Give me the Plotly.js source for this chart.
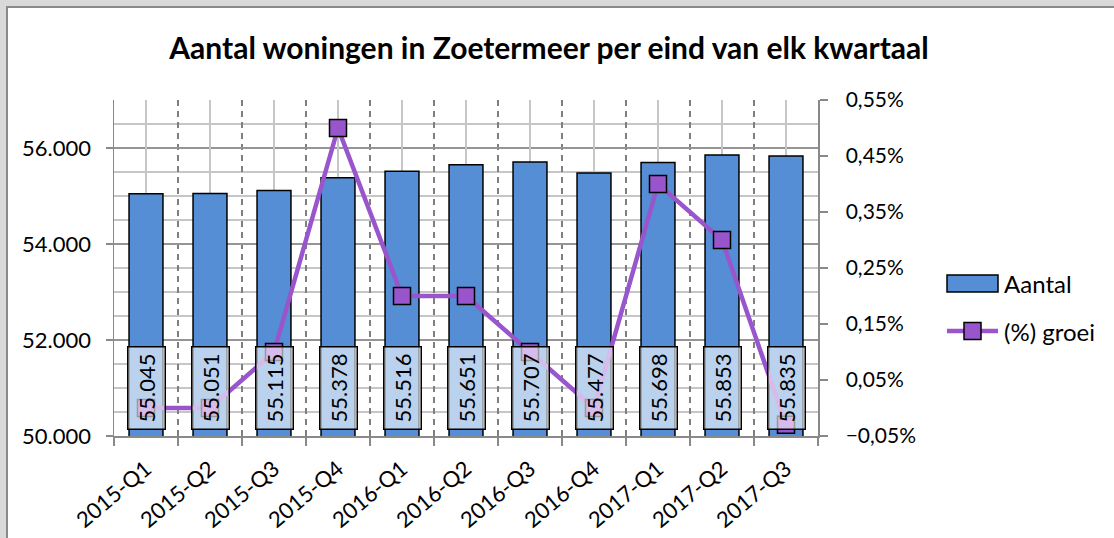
<!DOCTYPE html>
<html>
<head>
<meta charset="utf-8">
<script src="https://cdn.plot.ly/plotly-3.0.1.min.js"></script>
<style>
  html, body { margin: 0; padding: 0; background: #d9d9d9; width: 1114px; height: 538px; overflow: hidden; }
  #frame { position: absolute; left: 6px; top: 6px; width: 1106px; height: 530px;
           border-left: 2px solid #8a8a8a; border-top: 2px solid #8a8a8a; background: #ffffff; }
  #chart { width: 1106px; height: 530px; }
</style>
</head>
<body>
<div id="frame"><div id="chart"></div></div>
<script>
// ---- data ----
const categories = ["2015-Q1","2015-Q2","2015-Q3","2015-Q4","2016-Q1","2016-Q2","2016-Q3","2016-Q4","2017-Q1","2017-Q2","2017-Q3"];
const aantal = [55045, 55051, 55115, 55378, 55516, 55651, 55707, 55477, 55698, 55853, 55835];
const groei = [0.00, 0.00, 0.10, 0.50, 0.20, 0.20, 0.10, 0.00, 0.40, 0.30, -0.03];
const seriesNames = ["Aantal", "(%) groei"];
const titleText = "Aantal woningen in Zoetermeer per eind van elk kwartaal";

// ---- layout geometry (pixels inside chart div) ----
const W = 1106, H = 530;
const M = { l: 106, r: 296, t: 92, b: 102 };
const PW = W - M.l - M.r, PH = H - M.t - M.b;
const px = x => (x - M.l) / PW;
const py = y => 1 - (y - M.t) / PH;

const barColor = "#558ed5";
const lineColor = "#9955cc";
const FONT = "Lato, 'Open Sans', sans-serif";

function nl(v) { return String(v).replace(/\B(?=(\d{3})+(?!\d))/g, "."); }

const bars = {
  type: "bar", name: seriesNames[0], x: categories, y: aantal,
  xaxis: "x", yaxis: "y", width: 0.53,
  marker: { color: barColor, line: { color: "#000000", width: 1.5 } },
  hoverinfo: "x+y"
};
const line = {
  type: "scatter", mode: "lines+markers", name: seriesNames[1], x: categories, y: groei,
  xaxis: "x2", yaxis: "y2",
  line: { color: lineColor, width: 4.5 },
  marker: { symbol: "square", size: 17, color: lineColor, line: { color: "#000000", width: 1.5 } },
  cliponaxis: false
};

const annotations = categories.map((c, i) => ({
  xref: "x", yref: "y", x: c, y: 51000, text: nl(aantal[i]),
  showarrow: false, textangle: -90,
  font: { family: FONT, size: 22, color: "#000000" },
  bgcolor: "rgba(255,255,255,0.6)", bordercolor: "#000000", borderwidth: 1.5, borderpad: 1,
  width: 79, height: 34, xanchor: "center", yanchor: "middle"
}));

// custom legend
const legFont = { family: FONT, size: 24, color: "#000000" };
annotations.push({ xref: "paper", yref: "paper", x: px(994), y: py(275.5), xanchor: "left", yanchor: "middle",
  text: seriesNames[0], showarrow: false, font: legFont });
annotations.push({ xref: "paper", yref: "paper", x: px(994), y: py(323), xanchor: "left", yanchor: "middle",
  text: seriesNames[1], showarrow: false, font: legFont });

const shapes = [
  { type: "rect", xref: "paper", yref: "paper", x0: px(939), x1: px(990), y0: py(284), y1: py(267),
    fillcolor: barColor, line: { color: "#000000", width: 1.5 } },
  { type: "line", xref: "paper", yref: "paper", x0: px(939), x1: px(990), y0: py(323), y1: py(323),
    line: { color: lineColor, width: 4.5 } },
  { type: "rect", xref: "paper", yref: "paper", x0: px(956), x1: px(973), y0: py(331.5), y1: py(314.5),
    fillcolor: lineColor, line: { color: "#000000", width: 1.5 } }
];

const tickFont = { family: FONT, size: 21, color: "#000000" };
const axisGray = "#898989";

const layout = {
  width: W, height: H,
  margin: M,
  paper_bgcolor: "#ffffff", plot_bgcolor: "#ffffff",
  separators: ",.",
  showlegend: false,
  bargap: 0.47,
  title: { text: "<b>" + titleText + "</b>", font: { family: FONT, size: 30, color: "#000000" },
           x: 541 / W, xanchor: "center", y: 1 - 40 / H, yanchor: "middle", xref: "container", yref: "container" },
  xaxis: {
    type: "category", categoryorder: "array", categoryarray: categories, range: [-0.5, 10.5],
    tickson: "boundaries", ticks: "outside", ticklen: 8, tickwidth: 1.5, tickcolor: axisGray,
    showgrid: true, gridcolor: "#7f7f7f", gridwidth: 1.2, griddash: "6px,5px",
    showline: true, linecolor: axisGray, linewidth: 1.5,
    tickangle: -40, tickfont: { family: FONT, size: 22, color: "#000000" }, ticklabelstandoff: 10,
    automargin: false, fixedrange: true
  },
  xaxis2: {
    type: "category", categoryorder: "array", categoryarray: categories, range: [-0.5, 10.5],
    overlaying: "x", anchor: "y", showticklabels: false, ticks: "",
    showgrid: true, gridcolor: "#c6c6c6", gridwidth: 1.2, showline: false, zeroline: false, automargin: false
  },
  yaxis: {
    range: [50000, 57000], tick0: 50000, dtick: 2000, tickformat: ",d",
    ticks: "outside", ticklen: 7, tickwidth: 1.5, tickcolor: axisGray,
    showgrid: true, gridcolor: "#959595", gridwidth: 1.3,
    minor: { dtick: 500, tick0: 50000, showgrid: true, gridcolor: "#c6c6c6", gridwidth: 1.2, ticks: "" },
    showline: true, linecolor: axisGray, linewidth: 1.5, zeroline: false,
    tickfont: { family: FONT, size: 22, color: "#000000" }, ticklabelstandoff: 10, automargin: false
  },
  yaxis2: {
    overlaying: "y", side: "right", anchor: "x2",
    range: [-0.05, 0.55], tick0: -0.05, dtick: 0.1, tickformat: ".2f", ticksuffix: "%",
    ticks: "outside", ticklen: 8, tickwidth: 1.5, tickcolor: axisGray,
    showgrid: false, zeroline: false,
    showline: true, linecolor: axisGray, linewidth: 1.5,
    tickfont: tickFont, ticklabelstandoff: 14, automargin: false
  },
  annotations: annotations,
  shapes: shapes
};

Plotly.newPlot("chart", [bars, line], layout, { staticPlot: true, displayModeBar: false });
</script>
</body>
</html>
